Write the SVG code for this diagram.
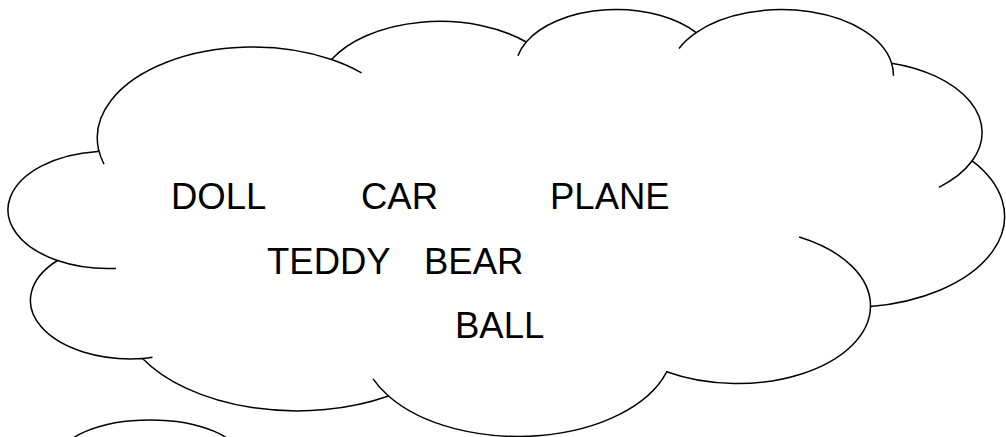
<svg xmlns="http://www.w3.org/2000/svg" width="1006" height="437" viewBox="0 0 1006 437">
  <style>
    .outline { fill: #ffffff; stroke: #000000; stroke-width: 1.5; stroke-linejoin: miter; }
    .crease { fill: none; stroke: #000000; stroke-width: 1.5; }
    .label { font-family: "Liberation Sans", Arial, sans-serif; font-size: 36.5px; fill: #000000; }
  </style>
  <rect x="0" y="0" width="1006" height="437" fill="#ffffff"/>
  <g id="cloud">
    <path class="outline" d="M 98.7,150.1
      A 155.57 90.79 0 0 1 331.5,59.5
      A 122.86 71.79 0 0 1 526.2,42.0
      A 100.56 58.73 0 0 1 696.2,32.6
      A 111.89 65.15 0 0 1 891.6,63.2
      A 122.86 71.85 0 0 1 972.2,160.8
      A 156.08 91.08 0 0 1 870.5,306.5
      A 133.27 77.72 0 0 1 666.7,371.8
      A 155.55 91.03 0 0 1 388.5,396.0
      A 177.85 104.15 0 0 1 142.5,358.5
      A 100.44 58.46 0 0 1 57.5,260.5
      A 100.10 58.73 0 0 1 97.8,151.4 Z"/>
    <path class="crease" d="M 104.0,164.1 A 155.57 90.79 0 0 1 98.7,150.1
      M 331.5,59.5 A 155.57 90.79 0 0 1 361.5,72.8
      M 517.9,55.7 A 100.56 58.73 0 0 1 526.2,42.0
      M 679.0,48.5 A 111.89 65.15 0 0 1 696.2,32.6
      M 891.6,63.2 A 111.89 65.15 0 0 1 893.4,75.7
      M 972.2,160.8 A 122.86 71.85 0 0 1 938.9,187.3
      M 799.2,237.0 A 133.27 77.72 0 0 1 870.5,306.5
      M 388.5,396.0 A 155.55 91.03 0 0 1 373.1,378.8
      M 152.5,357.3 A 100.44 58.46 0 0 1 142.5,358.5
      M 115.9,268.4 A 100.10 58.73 0 0 1 57.5,260.5"/>
  </g>
  <g id="bubble">
    <ellipse class="outline" cx="150" cy="459" rx="91" ry="39"/>
  </g>
  <g id="connectors"></g>
  <g id="label-doll"><text class="label" x="171" y="209">DOLL</text></g>
  <g id="label-car"><text class="label" x="361" y="209">CAR</text></g>
  <g id="label-plane"><text class="label" x="550" y="209">PLANE</text></g>
  <g id="label-teddy-bear"><text class="label" x="267" y="274">TEDDY<tspan x="424">BEAR</tspan></text></g>
  <g id="label-ball"><text class="label" x="455" y="338">BALL</text></g>
</svg>
